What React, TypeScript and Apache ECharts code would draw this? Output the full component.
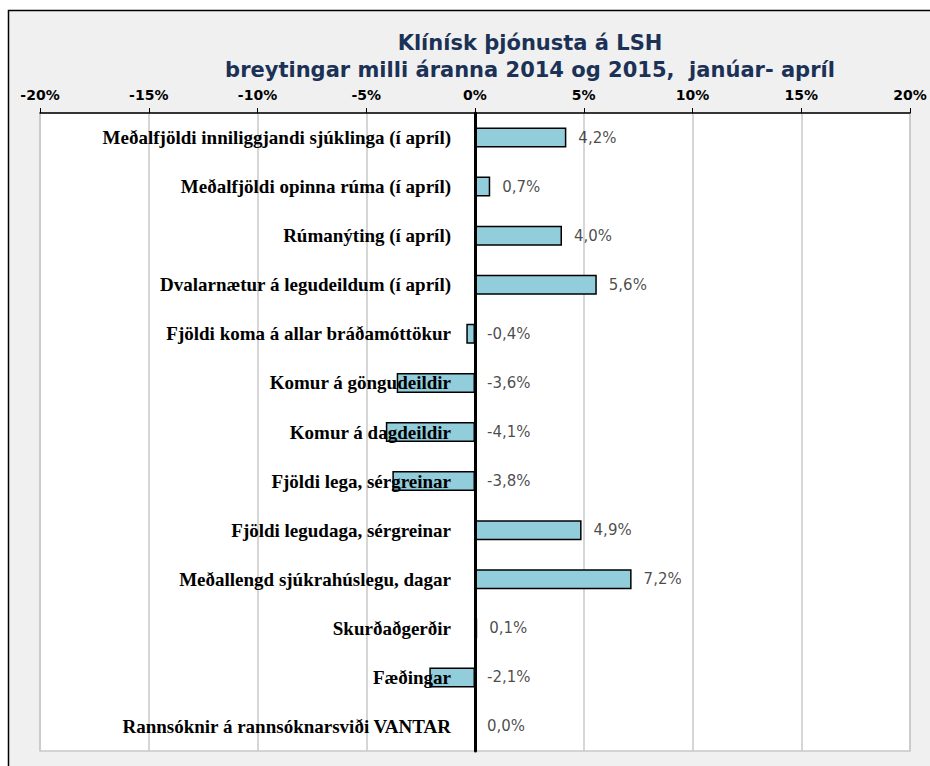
import React, { useEffect, useRef } from "react";
import * as echarts from "echarts";

const titleLines = [
  "Klínísk þjónusta á LSH",
  "breytingar milli áranna 2014 og 2015,  janúar- apríl",
];

const categories = [
  "Meðalfjöldi inniliggjandi sjúklinga (í apríl)",
  "Meðalfjöldi opinna rúma (í apríl)",
  "Rúmanýting (í apríl)",
  "Dvalarnætur á legudeildum (í apríl)",
  "Fjöldi koma á allar bráðamóttökur",
  "Komur á göngudeildir",
  "Komur á dagdeildir",
  "Fjöldi lega, sérgreinar",
  "Fjöldi legudaga, sérgreinar",
  "Meðallengd sjúkrahúslegu, dagar",
  "Skurðaðgerðir",
  "Fæðingar",
  "Rannsóknir á rannsóknarsviði VANTAR",
];

const changes = [4.2, 0.7, 4.0, 5.6, -0.4, -3.6, -4.1, -3.8, 4.9, 7.2, 0.1, -2.1, 0.0];

const axisMin = -20;
const axisMax = 20;
const axisStep = 5;

const fmt = (v: number) => v.toFixed(1).replace(".", ",") + "%";

const SANS = "DejaVu Sans, Verdana, sans-serif";
const SERIF = "Liberation Serif, Times New Roman, serif";

const GRID_LEFT = 40;
const LABEL_RIGHT_EDGE = 451;

export default function App() {
  const ref = useRef<HTMLDivElement>(null);

  useEffect(() => {
    if (!ref.current) return;
    const chart = echarts.init(ref.current, undefined, { renderer: "svg" });
    chart.setOption({
      animation: false,
      backgroundColor: "#ffffff",
      graphic: [
        {
          type: "rect",
          z: -10,
          silent: true,
          shape: { x: 8.5, y: 10.5, width: 940, height: 780 },
          style: { fill: "#f0f0f0", stroke: "#000000", lineWidth: 1.5 },
        },
      ],
      title: {
        text: titleLines.join("\n"),
        left: 525,
        top: 24,
        textAlign: "center",
        textStyle: {
          fontFamily: SANS,
          fontSize: 21,
          fontWeight: "bold",
          color: "#1b3156",
          lineHeight: 27,
        },
      },
      grid: {
        left: GRID_LEFT,
        right: 20,
        top: 113,
        bottom: 15,
        show: true,
        backgroundColor: "#ffffff",
        borderColor: "#c8c8c8",
        borderWidth: 1.5,
        containLabel: false,
        outerBoundsMode: "none",
      },
      xAxis: {
        type: "value",
        position: "top",
        min: axisMin,
        max: axisMax,
        interval: axisStep,
        axisLine: { show: true, lineStyle: { color: "#000", width: 1.5 } },
        axisTick: { show: true, length: 5, lineStyle: { color: "#000", width: 1 } },
        axisLabel: {
          formatter: (v: number) => `${v}%`,
          fontFamily: SANS,
          fontSize: 14,
          fontWeight: "bold",
          color: "#000",
          margin: 11,
        },
        splitLine: { show: true, lineStyle: { color: "#c8c8c8", width: 1.5 } },
      },
      yAxis: {
        type: "category",
        data: categories,
        inverse: true,
        z: 10,
        axisLine: { show: true, onZero: true, lineStyle: { color: "#000", width: 3 } },
        axisTick: { show: false },
        splitLine: { show: false },
        axisLabel: {
          margin: GRID_LEFT - LABEL_RIGHT_EDGE,
          align: "right",
          fontFamily: SERIF,
          fontSize: 19,
          fontWeight: "bold",
          color: "#000",
        },
      },
      series: [
        {
          type: "bar",
          data: changes,
          barWidth: 20,
          z: 2,
          itemStyle: { color: "#92cddc", borderColor: "#000", borderWidth: 1.5 },
        },
        {
          type: "scatter",
          data: changes.map((v, i) => [Math.max(v, 0), i]),
          symbolSize: 0,
          z: 12,
          silent: true,
          label: {
            show: true,
            position: "right",
            distance: 12,
            formatter: (p: any) => fmt(changes[p.dataIndex]),
            fontFamily: SANS,
            fontSize: 15,
            color: "#1a1a1a",
          },
        },
      ],
    });
    return () => chart.dispose();
  }, []);

  return (
    <div
      ref={ref}
      style={{ position: "fixed", left: 0, top: 0, width: 930, height: 766 }}
    />
  );
}
